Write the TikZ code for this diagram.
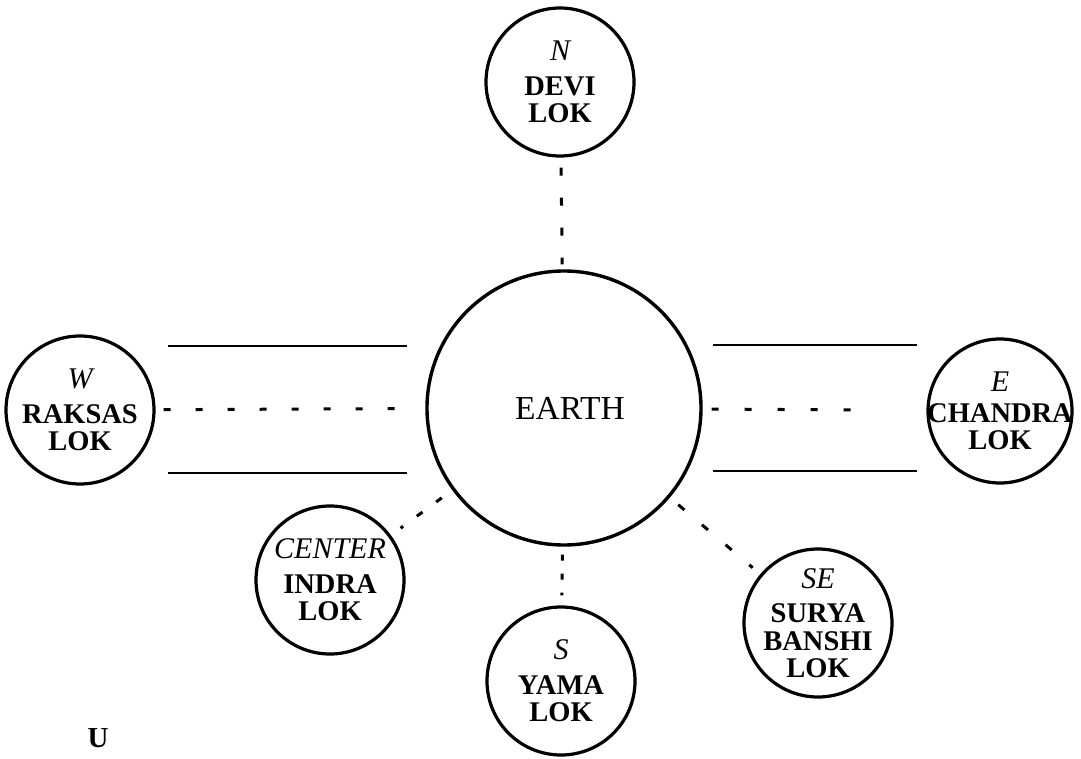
\documentclass[tikz,border=0pt]{standalone}
\usepackage{fontspec}
\setmainfont{Liberation Serif}
\newcommand\dirtxt[1]{{\mdseries\itshape\fontsize{30}{30}\selectfont #1}}
\begin{document}
\begin{tikzpicture}[x=1pt,y=-1pt,
  lok/.style={circle,draw,line width=3.2pt,minimum size=148pt,inner sep=-40pt,align=center,
    font=\fontsize{28.5}{27.5}\selectfont\bfseries},
  earthc/.style={circle,draw,line width=3.4pt,minimum size=274pt,inner sep=0pt,
    font=\fontsize{33.5}{36}\selectfont},
  bar/.style={line width=2.4pt},
  dotline/.style={line width=3pt}
]
\useasboundingbox (0,0) rectangle (1081,759);

\node[earthc] (Earth) at (564,408) {\hspace{12pt}EARTH};

\node[lok] (N)  at (560,82)  {\dirtxt{N}\\[7pt]DEVI\\LOK};
\node[lok] (W)  at (80,410)  {\dirtxt{W}\\[7pt]RAKSAS\\LOK};
\node[lok,minimum size=144pt] (E)  at (1000,411) {\dirtxt{E}\\[3pt]CHANDRA\\LOK};
\node[lok] (C)  at (330,580) {\dirtxt{CENTER}\\[7pt]INDRA\\LOK};
\node[lok] (S)  at (561,681) {\dirtxt{S}\\[7pt]YAMA\\LOK};
\node[lok] (SE) at (818,623) {\dirtxt{SE}\\[7pt]SURYA\\BANSHI\\LOK};

\node[font=\fontsize{29}{29}\selectfont\bfseries] (U) at (98,738) {U};

% parallel bars
\draw[bar] (168,346) -- (407,346);
\draw[bar] (168,473) -- (407,473);
\draw[bar] (713,345) -- (917,345);
\draw[bar] (713,471) -- (917,471);

% dotted connectors
\draw[dotline,dash pattern=on 7pt off 25pt,shorten <=8pt,shorten >=30pt] (W) -- (Earth);
\draw[dotline,dash pattern=on 7pt off 26pt,shorten <=9pt,shorten >=50pt] (Earth) -- (E);
\draw[dotline,dash pattern=on 8pt off 22pt,shorten <=10pt,shorten >=5pt] (N) -- (Earth);
\draw[dotline,dash pattern=on 6pt off 13pt,shorten <=8pt,shorten >=10pt] (Earth) -- (S);
\draw[dotline,dash pattern=on 7pt off 17pt,shorten <=13pt,shorten >=12pt] (Earth) -- (C);
\draw[dotline,dash pattern=on 8pt off 23pt,shorten <=11pt,shorten >=10pt] (Earth) -- (SE);
\end{tikzpicture}
\end{document}
